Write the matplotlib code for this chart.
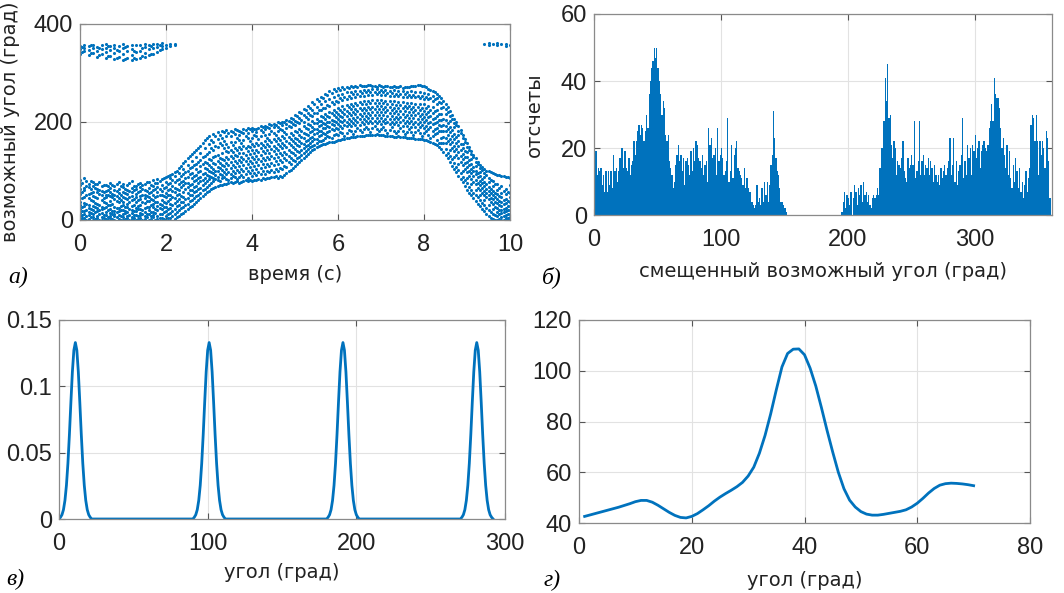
import numpy as np
import matplotlib.pyplot as plt

plt.rcParams['font.family'] = ['Liberation Sans', 'DejaVu Sans']

BLUE = '#0072BD'

# --- a) candidate angles vs time: (time, [angles]) ---
cloud = [
    (0.0, [2, 9, 14, 23, 31, 37, 53, 64, 71, 82]),
    (0.1, [0, 5, 13, 18, 28, 34, 47, 61, 66, 85]),
    (0.2, [3, 11, 16, 25, 30, 44, 53, 67, 74]),
    (0.3, [1, 6, 12, 21, 29, 38, 49, 57, 70, 77]),
    (0.4, [4, 8, 19, 24, 33, 45, 58, 63, 73]),
    (0.5, [0, 7, 15, 22, 27, 41, 50, 60, 69]),
    (0.6, [2, 10, 17, 27, 35, 46, 52, 59, 72]),
    (0.7, [5, 9, 14, 23, 30, 39, 48, 57, 65, 76]),
    (0.8, [1, 8, 13, 19, 27, 42, 51, 62, 70]),
    (0.9, [3, 11, 18, 25, 36, 44, 56, 64, 78]),
    (1.0, [0, 6, 12, 21, 30, 37, 47, 58, 67, 73]),
    (1.1, [4, 9, 16, 26, 33, 43, 53, 61, 71]),
    (1.2, [2, 7, 15, 20, 28, 40, 49, 57, 66, 79]),
    (1.3, [1, 11, 18, 25, 36, 46, 54, 63, 70]),
    (1.4, [5, 10, 14, 23, 31, 42, 48, 60, 68, 76]),
    (1.5, [3, 8, 17, 24, 34, 44, 52, 62, 73]),
    (1.6, [0, 12, 20, 27, 38, 47, 55, 66, 78]),
    (1.7, [6, 10, 16, 26, 33, 41, 50, 61, 70, 81]),
    (1.8, [2, 9, 21, 28, 36, 48, 57, 67, 75, 84]),
    (1.9, [4, 13, 22, 31, 40, 52, 60, 72, 83]),
    (2.0, [1, 8, 18, 26, 35, 46, 56, 68, 78, 88]),
    (2.1, [5, 14, 25, 33, 42, 51, 63, 75, 85, 91]),
    (2.2, [2, 12, 22, 35, 45, 57, 66, 77, 89, 97]),
    (2.3, [9, 21, 30, 43, 53, 61, 73, 84, 95, 107]),
    (2.4, [15, 27, 37, 47, 58, 71, 80, 93, 104, 117]),
    (2.5, [23, 33, 45, 55, 67, 76, 88, 101, 112, 126]),
    (2.6, [28, 41, 52, 62, 74, 86, 96, 108, 121, 134]),
    (2.7, [37, 48, 59, 70, 81, 92, 104, 115, 129, 143]),
    (2.8, [44, 56, 66, 79, 88, 99, 110, 123, 136, 152]),
    (2.9, [53, 64, 75, 85, 96, 106, 119, 130, 146, 163]),
    (3.0, [60, 72, 83, 89, 101, 112, 125, 139, 155, 172]),
    (3.1, [66, 79, 86, 95, 104, 117, 128, 143, 160, 176]),
    (3.2, [70, 81, 88, 99, 109, 120, 133, 148, 166, 180]),
    (3.3, [72, 85, 91, 102, 113, 125, 136, 153, 168, 181]),
    (3.4, [74, 83, 93, 105, 116, 129, 141, 156, 171, 183]),
    (3.5, [77, 85, 94, 107, 118, 131, 143, 159, 172, 182]),
    (3.6, [78, 87, 96, 108, 121, 132, 147, 160, 175, 185]),
    (3.7, [76, 88, 97, 111, 122, 136, 148, 163, 174, 182]),
    (3.8, [80, 88, 99, 112, 125, 137, 151, 164, 177, 186]),
    (3.9, [80, 86, 101, 115, 126, 140, 152, 167, 178, 187]),
    (4.0, [79, 90, 102, 117, 128, 142, 155, 168, 181, 188]),
    (4.1, [82, 91, 105, 118, 131, 143, 157, 171, 180, 186]),
    (4.2, [82, 93, 106, 121, 133, 147, 158, 172, 184, 191]),
    (4.3, [84, 94, 109, 122, 136, 148, 161, 174, 185, 192]),
    (4.4, [85, 97, 110, 125, 137, 151, 163, 176, 187, 195]),
    (4.5, [87, 98, 113, 126, 141, 152, 166, 178, 189, 196]),
    (4.6, [86, 101, 115, 129, 142, 156, 168, 181, 190, 199]),
    (4.7, [88, 104, 118, 132, 146, 158, 172, 183, 194, 201]),
    (4.8, [96, 108, 123, 135, 149, 161, 175, 187, 196, 205]),
    (4.9, [102, 115, 127, 139, 153, 165, 177, 190, 200, 209]),
    (5.0, [111, 120, 133, 144, 157, 168, 181, 193, 203, 215]),
    (5.1, [118, 129, 138, 151, 161, 174, 185, 197, 209, 221]),
    (5.2, [127, 136, 147, 156, 168, 178, 191, 201, 214, 227]),
    (5.3, [134, 145, 153, 164, 173, 185, 195, 207, 219, 233]),
    (5.4, [142, 150, 161, 170, 181, 190, 202, 212, 225, 241]),
    (5.5, [148, 158, 166, 177, 186, 197, 206, 219, 231, 247]),
    (5.6, [153, 162, 173, 182, 193, 202, 213, 224, 237, 252]),
    (5.7, [156, 167, 176, 187, 196, 207, 216, 229, 243, 258]),
    (5.8, [159, 170, 181, 190, 201, 210, 221, 232, 247, 263]),
    (5.9, [160, 173, 183, 194, 203, 214, 224, 237, 251, 267]),
    (6.0, [163, 174, 186, 195, 207, 216, 229, 240, 256, 270]),
    (6.1, [165, 177, 188, 199, 210, 221, 232, 245, 258, 271]),
    (6.2, [167, 178, 191, 200, 213, 222, 235, 246, 261, 272]),
    (6.3, [169, 181, 192, 203, 214, 226, 236, 249, 262, 273]),
    (6.4, [170, 181, 194, 204, 216, 226, 239, 250, 264, 274]),
    (6.5, [172, 183, 194, 206, 216, 229, 240, 253, 264, 275]),
    (6.6, [172, 185, 196, 206, 218, 229, 242, 253, 266, 273]),
    (6.7, [174, 185, 197, 208, 218, 231, 242, 255, 266, 275]),
    (6.8, [174, 187, 197, 209, 220, 231, 244, 255, 268, 274]),
    (6.9, [175, 186, 198, 208, 221, 233, 244, 257, 267, 272]),
    (7.0, [173, 186, 196, 209, 220, 233, 245, 256, 266, 274]),
    (7.1, [172, 184, 197, 207, 220, 231, 243, 256, 265, 273]),
    (7.2, [171, 184, 195, 207, 218, 231, 242, 254, 264, 271]),
    (7.3, [170, 182, 195, 206, 219, 229, 242, 253, 265, 273]),
    (7.4, [171, 181, 193, 206, 217, 229, 240, 253, 263, 272]),
    (7.5, [169, 181, 192, 204, 217, 228, 241, 252, 264, 270]),
    (7.6, [168, 180, 192, 203, 215, 228, 239, 251, 262, 272]),
    (7.7, [168, 179, 190, 203, 214, 226, 239, 250, 263, 273]),
    (7.8, [166, 179, 189, 201, 214, 225, 237, 250, 261, 274]),
    (7.9, [165, 177, 189, 200, 212, 225, 236, 248, 261, 276]),
    (8.0, [164, 177, 187, 200, 211, 223, 236, 247, 259, 273]),
    (8.1, [162, 174, 186, 197, 210, 221, 233, 246, 257, 268]),
    (8.2, [158, 171, 182, 195, 206, 219, 230, 243, 253, 264]),
    (8.3, [153, 164, 177, 188, 201, 212, 225, 236, 248, 258]),
    (8.4, [144, 157, 168, 181, 192, 205, 216, 229, 239, 249]),
    (8.5, [133, 144, 157, 168, 181, 192, 205, 216, 227, 236]),
    (8.6, [118, 131, 142, 155, 166, 179, 190, 203, 212, 223]),
    (8.7, [104, 117, 128, 141, 152, 165, 176, 189, 198, 207]),
    (8.8, [90, 103, 114, 127, 138, 151, 161, 173, 182, 191]),
    (8.9, [77, 88, 101, 112, 124, 134, 146, 156, 167, 174]),
    (9.0, [62, 75, 86, 98, 108, 119, 128, 139, 148, 157]),
    (9.1, [51, 62, 74, 84, 95, 104, 115, 124, 134, 140]),
    (9.2, [38, 51, 61, 73, 82, 93, 101, 111, 118, 126]),
    (9.3, [29, 40, 52, 61, 71, 80, 90, 98, 107, 112]),
    (9.4, [18, 31, 41, 52, 60, 70, 78, 88, 95, 104]),
    (9.5, [8, 21, 31, 42, 50, 60, 68, 78, 86, 99]),
    (9.6, [2, 13, 22, 33, 42, 52, 60, 70, 79, 95]),
    (9.7, [0, 8, 17, 25, 35, 43, 53, 62, 74, 92]),
    (9.8, [1, 6, 14, 20, 29, 37, 47, 56, 69, 90]),
    (9.9, [0, 4, 10, 18, 25, 34, 42, 53, 64, 88]),
    (10.0, [2, 7, 13, 20, 29, 36, 46, 55, 71, 86]),
]

# samples between the main time steps
cloud_mid = [
    (0.05, [4, 11, 19, 26, 45, 58, 76]), (0.15, [1, 9, 21, 33, 51, 69, 79]),
    (0.25, [6, 14, 22, 40, 56, 63, 80]), (0.35, [3, 17, 26, 35, 47, 66, 74]),
    (0.45, [0, 12, 20, 31, 54, 61, 77]), (0.55, [5, 11, 25, 37, 44, 57, 72]),
    (0.65, [1, 7, 20, 30, 50, 62, 69]), (0.75, [3, 12, 18, 33, 46, 53, 71]),
    (0.85, [6, 16, 24, 38, 48, 59, 74]), (0.95, [0, 9, 21, 29, 41, 52, 69]),
    (1.05, [3, 14, 19, 27, 45, 55, 63]), (1.15, [1, 11, 23, 36, 47, 59, 75]),
    (1.25, [5, 10, 18, 31, 43, 62, 70]), (1.35, [2, 8, 22, 29, 41, 57, 74]),
    (1.45, [0, 13, 20, 36, 51, 64, 72]), (1.55, [6, 12, 27, 38, 49, 59, 78]),
    (1.65, [3, 9, 17, 31, 43, 58, 72]), (1.75, [1, 14, 23, 37, 46, 64, 76]),
    (1.85, [5, 12, 25, 33, 52, 63, 80]), (1.95, [2, 16, 27, 37, 49, 65, 86]),
    (2.05, [4, 13, 23, 39, 50, 62, 74, 90]), (2.15, [8, 19, 30, 47, 60, 70, 81, 94]),
    (2.25, [6, 17, 28, 39, 50, 64, 82, 101]), (2.35, [13, 25, 36, 49, 67, 78, 90, 111]),
    (2.45, [19, 31, 42, 63, 75, 86, 98, 121]), (2.55, [26, 39, 50, 61, 72, 94, 106, 130]),
    (2.65, [33, 45, 57, 68, 79, 90, 113, 138]), (2.75, [41, 52, 64, 76, 86, 98, 119, 147]),
    (2.85, [48, 61, 71, 82, 93, 114, 128, 158]), (2.95, [57, 67, 79, 92, 104, 116, 135, 168]),
    (3.05, [63, 76, 87, 97, 108, 122, 147, 164]), (3.15, [68, 84, 92, 101, 114, 131, 152, 171]),
    (3.25, [71, 79, 94, 106, 117, 127, 158, 174]), (3.35, [74, 88, 97, 110, 122, 146, 162, 179]),
    (3.45, [75, 81, 98, 112, 124, 138, 149, 177]), (3.55, [76, 90, 101, 113, 127, 139, 153, 180]),
    (3.65, [79, 84, 103, 116, 130, 142, 168, 183]), (3.75, [78, 92, 105, 118, 129, 145, 157, 179]),
    (3.85, [81, 94, 107, 120, 133, 146, 171, 183]), (3.95, [82, 95, 109, 121, 135, 148, 162, 185]),
    (4.05, [81, 96, 110, 124, 136, 150, 174, 186]), (4.15, [83, 98, 112, 125, 138, 153, 165, 188]),
    (4.25, [85, 99, 114, 127, 140, 154, 179, 189]), (4.35, [86, 101, 115, 129, 142, 156, 168, 190]),
    (4.45, [87, 103, 117, 131, 145, 159, 182, 193]), (4.55, [89, 105, 120, 134, 147, 161, 173, 194]),
    (4.65, [90, 107, 122, 136, 150, 164, 186, 197]), (4.75, [92, 111, 126, 139, 153, 167, 179, 200]),
    (4.85, [100, 118, 130, 143, 157, 170, 191, 203]), (4.95, [107, 122, 136, 148, 161, 174, 196, 206]),
    (5.05, [114, 126, 141, 153, 165, 179, 199, 212]), (5.15, [122, 133, 143, 158, 170, 182, 204, 218]),
    (5.25, [130, 141, 152, 161, 176, 187, 210, 224]), (5.35, [138, 149, 158, 168, 179, 193, 214, 229]),
    (5.45, [145, 154, 165, 176, 185, 198, 218, 236]), (5.55, [150, 162, 171, 181, 191, 203, 224, 243]),
    (5.65, [155, 164, 178, 187, 198, 210, 228, 248]), (5.75, [157, 171, 180, 192, 201, 213, 234, 255]),
    (5.85, [160, 167, 185, 196, 205, 218, 240, 260]), (5.95, [161, 176, 188, 199, 210, 220, 243, 264]),
    (6.05, [164, 179, 191, 202, 213, 225, 248, 266]), (6.15, [166, 172, 193, 204, 216, 227, 250, 268]),
    (6.25, [168, 183, 196, 207, 219, 230, 254, 270]), (6.35, [169, 176, 198, 209, 221, 232, 257, 271]),
    (6.45, [171, 188, 200, 211, 223, 234, 258, 272]), (6.55, [172, 179, 201, 212, 224, 236, 260, 273]),
    (6.65, [173, 190, 202, 213, 225, 237, 261, 274]), (6.75, [173, 180, 203, 214, 226, 238, 262, 275]),
    (6.85, [174, 191, 203, 214, 227, 239, 262, 273]), (6.95, [174, 181, 203, 215, 226, 238, 261, 275]),
    (7.05, [173, 190, 202, 214, 226, 238, 261, 272]), (7.15, [172, 178, 201, 213, 225, 237, 260, 274]),
    (7.25, [171, 189, 201, 212, 224, 236, 259, 272]), (7.35, [170, 177, 200, 211, 223, 235, 258, 271]),
    (7.45, [170, 187, 199, 211, 222, 234, 258, 273]), (7.55, [169, 175, 198, 210, 222, 233, 257, 272]),
    (7.65, [168, 185, 197, 209, 220, 232, 256, 271]), (7.75, [167, 173, 196, 208, 220, 231, 255, 273]),
    (7.85, [166, 183, 195, 207, 218, 230, 254, 275]), (7.95, [165, 171, 194, 206, 217, 229, 253, 274]),
    (8.05, [163, 181, 192, 204, 216, 228, 252, 271]), (8.15, [160, 167, 189, 201, 213, 225, 249, 266]),
    (8.25, [156, 175, 186, 198, 209, 222, 246, 261]), (8.35, [149, 157, 181, 193, 204, 217, 240, 254]),
    (8.45, [139, 157, 169, 182, 194, 206, 231, 243]), (8.55, [126, 136, 161, 173, 185, 197, 221, 230]),
    (8.65, [111, 124, 147, 159, 171, 184, 207, 215]), (8.75, [97, 109, 133, 145, 157, 170, 193, 199]),
    (8.85, [83, 95, 119, 131, 143, 155, 177, 183]), (8.95, [69, 82, 104, 116, 129, 140, 160, 166]),
    (9.05, [56, 68, 90, 101, 112, 123, 143, 149]), (9.15, [44, 56, 78, 89, 99, 109, 128, 133]),
    (9.25, [33, 46, 66, 76, 87, 96, 114, 119]), (9.35, [23, 35, 56, 66, 75, 84, 102, 108]),
    (9.45, [13, 25, 46, 55, 64, 73, 91, 101]), (9.55, [5, 16, 36, 45, 55, 64, 82, 97]),
    (9.65, [0, 10, 27, 37, 47, 56, 74, 93]), (9.75, [3, 12, 21, 30, 39, 48, 66, 91]),
    (9.85, [0, 9, 16, 23, 33, 41, 60, 89]), (9.95, [2, 5, 13, 21, 29, 38, 58, 87]),
]

# wrapped-around points near 360 deg
wrap = [
    (0.0, [338, 348, 356]), (0.1, [344, 352, 358]), (0.2, [336, 347, 355]),
    (0.3, [340, 350, 357]), (0.4, [333, 345, 354]), (0.5, [338, 349, 358]),
    (0.6, [330, 342, 352, 359]), (0.7, [335, 346, 356]), (0.8, [328, 340, 351, 358]),
    (0.9, [332, 345, 355]), (1.0, [326, 338, 350, 359]), (1.1, [330, 344, 356]),
    (1.2, [327, 336, 349, 358]), (1.3, [329, 342, 357]), (1.4, [331, 345, 358]),
    (1.5, [333, 340, 354, 360]), (1.6, [336, 348, 358]), (1.7, [338, 350, 359]),
    (1.8, [342, 353, 360]), (1.9, [348, 356, 361]), (2.0, [352, 358]),
    (2.1, [356, 360]), (2.2, [357, 360]),
    (0.05, [343, 353]), (0.25, [341, 357]), (0.45, [336, 350]), (0.65, [334, 356]),
    (0.85, [331, 347]), (1.05, [329, 354]), (1.25, [331, 345]), (1.45, [334, 352]),
    (1.65, [339, 355]), (1.85, [346, 358]),
    (9.4, [359]), (9.5, [357, 361]), (9.6, [360]), (9.7, [358, 361]),
    (9.8, [359]), (9.9, [356, 360]), (10.0, [358]),
]

# --- b) histogram counts, 1 degree bins 0..359 ---
counts = [
    8, 19, 12, 14, 13, 14, 9, 12, 7, 13,
    7, 13, 9, 13, 8, 18, 13, 14, 10, 13,
    17, 20, 20, 14, 19, 14, 13, 17, 12, 15,
    16, 22, 18, 22, 25, 27, 24, 27, 26, 22,
    25, 30, 26, 36, 40, 44, 46, 50, 47, 50,
    44, 40, 36, 30, 34, 32, 24, 22, 24, 16,
    14, 12, 8, 10, 15, 18, 21, 16, 18, 13,
    17, 9, 16, 17, 15, 12, 19, 13, 20, 16,
    22, 21, 17, 16, 14, 18, 12, 15, 16, 10,
    26, 21, 23, 17, 18, 20, 12, 26, 16, 18,
    20, 17, 12, 13, 16, 29, 10, 13, 21, 11,
    18, 20, 22, 14, 13, 12, 11, 9, 14, 8,
    11, 8, 7, 7, 4, 3, 2, 3, 9, 4,
    5, 3, 8, 4, 10, 6, 10, 4, 9, 15,
    18, 31, 23, 17, 13, 12, 8, 4, 4, 3,
    2, 1, 0, 0, 0, 0, 0, 0, 0, 0,
    0, 0, 0, 0, 0, 0, 0, 0, 0, 0,
    0, 0, 0, 0, 0, 0, 0, 0, 0, 0,
    0, 0, 0, 0, 0, 0, 0, 0, 0, 0,
    0, 0, 0, 0, 0, 1, 4, 7, 2, 6,
    5, 3, 7, 0, 5, 9, 7, 3, 8, 6,
    9, 4, 10, 6, 7, 4, 6, 3, 2, 5,
    6, 5, 6, 8, 6, 14, 20, 20, 28, 41,
    34, 45, 29, 30, 21, 17, 22, 20, 12, 16,
    15, 14, 17, 22, 13, 11, 10, 17, 14, 15,
    18, 15, 28, 11, 13, 16, 28, 12, 16, 18,
    12, 15, 14, 17, 12, 16, 14, 10, 15, 12,
    10, 12, 9, 14, 11, 13, 15, 12, 14, 16,
    23, 12, 15, 23, 10, 16, 9, 13, 15, 18,
    29, 11, 16, 12, 21, 17, 20, 12, 21, 19,
    24, 17, 20, 22, 14, 19, 21, 22, 20, 19,
    21, 26, 28, 33, 28, 41, 36, 35, 35, 32,
    26, 20, 23, 18, 14, 21, 12, 19, 11, 8,
    15, 10, 17, 13, 8, 14, 7, 10, 5, 9,
    13, 7, 11, 14, 27, 30, 29, 22, 30, 22,
    12, 22, 18, 22, 20, 14, 25, 23, 16, 5,
]

# --- c) four identical peaks ---
peak_centers = [11, 101, 191, 281]
peak_offsets = list(range(-11, 12))
peak_shape = [0, 0.0013, 0.0032, 0.0070, 0.0140, 0.0254, 0.0420, 0.0636, 0.0880, 0.1109, 0.1272,
              0.133,
              0.1272, 0.1109, 0.0880, 0.0636, 0.0420, 0.0254, 0.0140, 0.0070, 0.0032, 0.0013, 0]

# --- d) smoothed curve ---
d_x = list(range(1, 71))
d_y = [42.6, 43.2, 43.8, 44.4, 45.0, 45.6, 46.2, 46.9, 47.6, 48.4,
       48.9, 48.9, 48.2, 47.0, 45.6, 44.2, 43.0, 42.2, 42.0, 42.6,
       43.7, 45.2, 46.8, 48.6, 50.2, 51.6, 52.9, 54.3, 56.0, 58.5,
       62.0, 67.5, 74.5, 83.0, 92.5, 101.5, 106.8, 108.5, 108.6, 106.3,
       101.0, 94.0, 85.5, 76.5, 68.0, 60.0, 53.5, 49.0, 46.3, 44.5,
       43.5, 43.1, 43.1, 43.4, 43.8, 44.2, 44.6, 45.2, 46.3, 47.8,
       49.7, 51.8, 53.6, 54.9, 55.5, 55.7, 55.6, 55.4, 55.1, 54.7]

W, H = 1064, 593
fig = plt.figure(figsize=(W / 100, H / 100), dpi=100)


def box(l, t, r, b):
    return [l / W, 1 - b / H, (r - l) / W, (b - t) / H]


def style(ax, xlab, ylab=None, xlab_y=-0.23, ylab_x=None):
    ax.grid(True, color='#e2e2e2', lw=0.8)
    ax.set_axisbelow(True)
    for s in ax.spines.values():
        s.set_color('#8a8a8a')
        s.set_linewidth(0.9)
    ax.tick_params(direction='in', top=True, right=True, length=4, width=0.8,
                   color='#555555', labelsize=17, labelcolor='#222222')
    ax.tick_params(axis='x', pad=10)
    ax.tick_params(axis='y', pad=5)
    ax.set_xlabel(xlab, fontsize=14, fontfamily='DejaVu Sans', color='#222222')
    ax.xaxis.set_label_coords(0.5, xlab_y)
    if ylab:
        ax.set_ylabel(ylab, fontsize=14, fontfamily='DejaVu Sans', color='#222222')
        ax.yaxis.set_label_coords(ylab_x, 0.5)


# a)
ax = fig.add_axes(box(80, 24, 510, 220))
for t, vals in cloud + cloud_mid + wrap:
    ax.scatter([t] * len(vals), vals, s=5, color=BLUE, linewidths=0)
ax.set_xlim(0, 10)
ax.set_ylim(0, 400)
ax.set_xticks([0, 2, 4, 6, 8, 10])
ax.set_yticks([0, 200, 400])
style(ax, 'время (с)', 'возможный угол (град)', -0.23, -0.14)

# b)
ax = fig.add_axes(box(594, 14, 1052, 215))
ax.bar(np.arange(len(counts)), counts, width=1.0, align='edge', color=BLUE, linewidth=0)
ax.set_xlim(0, 361)
ax.set_ylim(0, 60)
ax.set_xticks([0, 100, 200, 300])
ax.set_yticks([0, 20, 40, 60])
style(ax, 'смещенный возможный угол (град)', 'отсчеты', -0.235, -0.11)

# c)
ax = fig.add_axes(box(59, 320, 505, 519))
cx, cy = [], []
for c in peak_centers:
    cx += [c + o for o in peak_offsets]
    cy += peak_shape
ax.plot(cx, cy, color=BLUE, lw=2)
ax.set_xlim(0, 300)
ax.set_ylim(0, 0.15)
ax.set_xticks([0, 100, 200, 300])
ax.set_yticks([0, 0.05, 0.1, 0.15])
ax.set_yticklabels(['0', '0.05', '0.1', '0.15'])
style(ax, 'угол (град)', None, -0.22)

# d)
ax = fig.add_axes(box(579, 320, 1030, 523))
ax.plot(d_x, d_y, color=BLUE, lw=2)
ax.set_xlim(0, 80)
ax.set_ylim(40, 120)
ax.set_xticks([0, 20, 40, 60, 80])
ax.set_yticks([40, 60, 80, 100, 120])
style(ax, 'угол (град)', None, -0.235)

# panel letters
for x, y, s in [(18, 277, 'а)'), (552, 277, 'б)'), (15, 579, 'в)'), (552, 580, 'г)')]:
    fig.text(x / W, 1 - y / H, s, fontsize=17, fontfamily='Liberation Serif',
             style='italic', ha='center', va='center')

fig.savefig('out.png', dpi=100)
